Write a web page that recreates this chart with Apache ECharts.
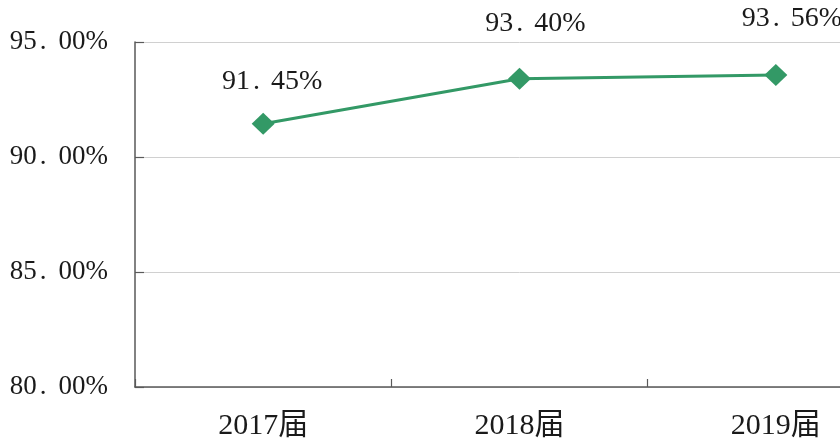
<!DOCTYPE html>
<html>
<head>
<meta charset="utf-8">
<script src="https://cdn.jsdelivr.net/npm/echarts@6/dist/echarts.min.js"></script>
<style>
html,body{margin:0;padding:0;background:#fff;}
#wrap{width:840px;height:441px;overflow:hidden;position:relative;}
#chart{width:905px;height:441px;}
</style>
</head>
<body>
<div id="wrap"><div id="chart"></div></div>
<script>
const categories = ['2017届', '2018届', '2019届'];
const rates = [91.45, 93.40, 93.56];
const yTicks = { min: 80, max: 95, interval: 5 };

const FONT = '"Liberation Serif", "Noto Sans CJK SC", serif';
const labelOffsets = [[9, -42], [16, -55], [16, -56]];

function splitNum(v) {
  const s = Number(v).toFixed(2);
  const parts = s.split('.');
  return '{d|' + parts[0] + '}{p|.}{d|' + parts[1] + '%}';
}

const chart = echarts.init(document.getElementById('chart'));
chart.setOption({
  animation: false,
  backgroundColor: '#ffffff',
  grid: { left: 135, right: 1, top: 42, bottom: 54 },
  xAxis: {
    type: 'category',
    data: categories,
    boundaryGap: true,
    axisLine: { show: true, lineStyle: { color: '#595959', width: 1.5 } },
    axisTick: { show: true, inside: true, length: 8, lineStyle: { color: '#595959', width: 1.2 } },
    axisLabel: { fontFamily: FONT, fontSize: 30, color: '#1a1a1a', margin: 24 },
    splitLine: { show: false }
  },
  yAxis: {
    type: 'value',
    min: yTicks.min,
    max: yTicks.max,
    interval: yTicks.interval,
    axisLine: { show: true, lineStyle: { color: '#595959', width: 1.5 } },
    axisTick: { show: true, inside: true, length: 9, lineStyle: { color: '#595959', width: 1.2 } },
    splitLine: { show: true, lineStyle: { color: '#d0d0d0', width: 1 } },
    axisLabel: {
      margin: 27,
      formatter: function (v) { return splitNum(v); },
      rich: {
        d: { fontFamily: FONT, fontSize: 27, color: '#1a1a1a' },
        p: { fontFamily: FONT, fontSize: 27, color: '#1a1a1a', padding: [0, 12, 0, 3] }
      }
    }
  },
  series: [{
    type: 'line',
    data: rates.map(function (v, i) {
      return {
        value: v,
        label: { offset: labelOffsets[i] }
      };
    }),
    symbol: 'diamond',
    symbolSize: [23, 22],
    showAllSymbol: true,
    lineStyle: { color: '#339966', width: 3 },
    itemStyle: { color: '#339966' },
    label: {
      show: true,
      position: 'inside',
      formatter: function (p) { return splitNum(p.value); },
      rich: {
        d: { fontFamily: FONT, fontSize: 28, color: '#1a1a1a' },
        p: { fontFamily: FONT, fontSize: 28, color: '#1a1a1a', padding: [0, 11, 0, 3] }
      }
    }
  }]
});
</script>
</body>
</html>
